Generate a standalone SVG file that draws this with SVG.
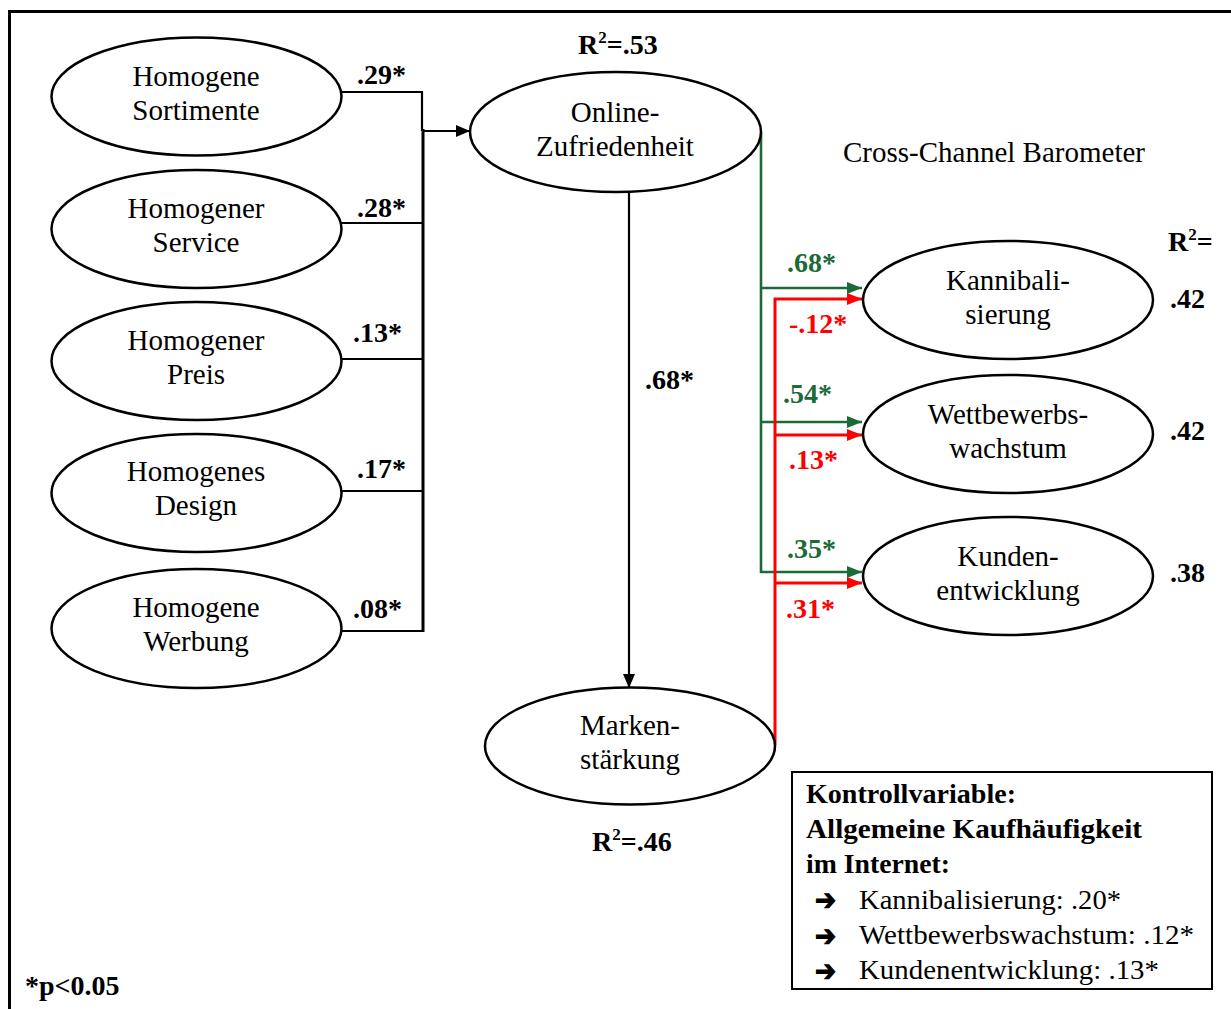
<svg xmlns="http://www.w3.org/2000/svg" width="1231" height="1009" viewBox="0 0 1231 1009">
  <style>
    .node ellipse { fill: #fff; stroke: #000; stroke-width: 2.5; }
    .lbl { font-family: "Liberation Serif", "Times New Roman", serif; font-size: 29px; fill: #000; text-anchor: middle; }
    .coef { font-family: "Liberation Serif", "Times New Roman", serif; font-size: 28px; font-weight: bold; fill: #000; }
    .green { fill: #1b6b38; }
    .red { fill: #ff0000; }
    .wire { fill: none; stroke: #000; stroke-width: 2.2; }
    .gwire { fill: none; stroke: #1b6b38; stroke-width: 2.6; }
    .rwire { fill: none; stroke: #ff0000; stroke-width: 3; }
    .box { font-family: "Liberation Serif", "Times New Roman", serif; font-size: 27px; fill: #000; }
    .bullet { font-family: "DejaVu Sans", sans-serif; font-size: 29px; font-weight: bold; fill: #000; stroke: #000; stroke-width: 1.2; }
  </style>
  <defs>
    <marker id="ahBlack" viewBox="0 0 14 12" refX="14" refY="6" markerWidth="14" markerHeight="12" markerUnits="userSpaceOnUse" orient="auto">
      <path d="M0,0 L14,6 L0,12 Z" fill="#000"/>
    </marker>
    <marker id="ahGreen" viewBox="0 0 15 12" refX="15" refY="6" markerWidth="15" markerHeight="12" markerUnits="userSpaceOnUse" orient="auto">
      <path d="M0,0 L15,6 L0,12 Z" fill="#1b6b38"/>
    </marker>
    <marker id="ahRed" viewBox="0 0 15 12" refX="15" refY="6" markerWidth="15" markerHeight="12" markerUnits="userSpaceOnUse" orient="auto">
      <path d="M0,0 L15,6 L0,12 Z" fill="#ff0000"/>
    </marker>
  </defs>

  <rect width="1231" height="1009" fill="#fff"/>

  <!-- frame (top and left edges) -->
  <path d="M9.5,1009 V11.5 H1231" fill="none" stroke="#000" stroke-width="3"/>

  <!-- connectors -->
  <g id="connectors">
    <path class="wire" d="M341,92 H422 V131"/>
    <path class="wire" d="M341,223 H422"/>
    <path class="wire" d="M341,359 H422"/>
    <path class="wire" d="M341,491 H422"/>
    <path class="wire" d="M341,631 H423"/>
    <path d="M423,129 V632" fill="none" stroke="#000" stroke-width="3"/>
    <path class="wire" d="M423,131 H470" stroke-width="2.6" marker-end="url(#ahBlack)"/>
    <path class="wire" d="M629,192 V688" marker-end="url(#ahBlack)"/>
    <path class="gwire" d="M761,132 V572 H862" marker-end="url(#ahGreen)"/>
    <path class="gwire" d="M761,288 H862" marker-end="url(#ahGreen)"/>
    <path class="gwire" d="M761,422 H862" marker-end="url(#ahGreen)"/>
    <path class="rwire" d="M775,745 V299 H862" marker-end="url(#ahRed)"/>
    <path class="rwire" d="M775,435 H862" marker-end="url(#ahRed)"/>
    <path class="rwire" d="M775,583 H862" marker-end="url(#ahRed)"/>
  </g>

  <!-- path coefficients -->
  <g id="coefficients">
    <text class="coef" x="357" y="84">.29*</text>
    <text class="coef" x="357" y="217">.28*</text>
    <text class="coef" x="353" y="342">.13*</text>
    <text class="coef" x="357" y="478">.17*</text>
    <text class="coef" x="353" y="618">.08*</text>
    <text class="coef" x="645" y="389">.68*</text>
    <text class="coef green" x="787" y="272">.68*</text>
    <text class="coef red" x="789" y="333">-.12*</text>
    <text class="coef green" x="783" y="403">.54*</text>
    <text class="coef red" x="789" y="469">.13*</text>
    <text class="coef green" x="787" y="558">.35*</text>
    <text class="coef red" x="786" y="618">.31*</text>
  </g>

  <!-- predictors -->
  <g id="homogene-sortimente" class="node">
    <ellipse cx="196.5" cy="96.5" rx="145" ry="59"/>
    <text class="lbl" x="196" y="86">Homogene</text>
    <text class="lbl" x="196" y="120">Sortimente</text>
  </g>
  <g id="homogener-service" class="node">
    <ellipse cx="196.5" cy="229" rx="145" ry="59"/>
    <text class="lbl" x="196" y="218">Homogener</text>
    <text class="lbl" x="196" y="252">Service</text>
  </g>
  <g id="homogener-preis" class="node">
    <ellipse cx="196.5" cy="361" rx="145" ry="59"/>
    <text class="lbl" x="196" y="350">Homogener</text>
    <text class="lbl" x="196" y="384">Preis</text>
  </g>
  <g id="homogenes-design" class="node">
    <ellipse cx="196.5" cy="493" rx="145" ry="59"/>
    <text class="lbl" x="196" y="481">Homogenes</text>
    <text class="lbl" x="196" y="515">Design</text>
  </g>
  <g id="homogene-werbung" class="node">
    <ellipse cx="196.5" cy="628.5" rx="145" ry="59.5"/>
    <text class="lbl" x="196" y="617">Homogene</text>
    <text class="lbl" x="196" y="651">Werbung</text>
  </g>

  <!-- mediators -->
  <g id="online-zufriedenheit" class="node">
    <ellipse cx="615.5" cy="132" rx="145.5" ry="60"/>
    <text class="lbl" x="615" y="122">Online-</text>
    <text class="lbl" x="615" y="156">Zufriedenheit</text>
  </g>
  <text class="coef" x="578" y="54">R<tspan font-size="17" dy="-11">2</tspan><tspan dy="11">=.53</tspan></text>

  <g id="markenstaerkung" class="node">
    <ellipse cx="630" cy="746" rx="145" ry="58.5"/>
    <text class="lbl" x="630" y="735">Marken-</text>
    <text class="lbl" x="630" y="769">stärkung</text>
  </g>
  <text class="coef" x="592" y="851">R<tspan font-size="17" dy="-11">2</tspan><tspan dy="11">=.46</tspan></text>

  <!-- outcomes -->
  <text class="lbl" x="994" y="162">Cross-Channel Barometer</text>
  <text class="coef" x="1168" y="251">R<tspan font-size="17" dy="-11">2</tspan><tspan dy="11">=</tspan></text>

  <g id="kannibalisierung" class="node">
    <ellipse cx="1008" cy="300" rx="145" ry="59"/>
    <text class="lbl" x="1008" y="290">Kannibali-</text>
    <text class="lbl" x="1008" y="324">sierung</text>
  </g>
  <text class="coef" x="1170" y="308">.42</text>

  <g id="wettbewerbswachstum" class="node">
    <ellipse cx="1008" cy="434" rx="145" ry="59"/>
    <text class="lbl" x="1008" y="424">Wettbewerbs-</text>
    <text class="lbl" x="1008" y="458">wachstum</text>
  </g>
  <text class="coef" x="1170" y="440">.42</text>

  <g id="kundenentwicklung" class="node">
    <ellipse cx="1008" cy="576" rx="145" ry="59"/>
    <text class="lbl" x="1008" y="566">Kunden-</text>
    <text class="lbl" x="1008" y="600">entwicklung</text>
  </g>
  <text class="coef" x="1170" y="582">.38</text>

  <!-- control variable box -->
  <g id="kontrollvariable">
    <rect x="792" y="772" width="420" height="217" fill="#fff" stroke="#000" stroke-width="2"/>
    <text class="box" x="806" y="803" font-weight="bold" textLength="210" lengthAdjust="spacingAndGlyphs">Kontrollvariable:</text>
    <text class="box" x="806" y="838" font-weight="bold" textLength="336" lengthAdjust="spacingAndGlyphs">Allgemeine Kaufhäufigkeit</text>
    <text class="box" x="806" y="873" font-weight="bold" textLength="144" lengthAdjust="spacingAndGlyphs">im Internet:</text>
    <text class="bullet" x="815" y="910" textLength="21" lengthAdjust="spacingAndGlyphs">➔</text>
    <text class="bullet" x="815" y="946" textLength="21" lengthAdjust="spacingAndGlyphs">➔</text>
    <text class="bullet" x="815" y="981" textLength="21" lengthAdjust="spacingAndGlyphs">➔</text>
    <text class="box" x="859" y="909" textLength="262" lengthAdjust="spacingAndGlyphs">Kannibalisierung: .20*</text>
    <text class="box" x="859" y="944" textLength="335" lengthAdjust="spacingAndGlyphs">Wettbewerbswachstum: .12*</text>
    <text class="box" x="859" y="979" textLength="300" lengthAdjust="spacingAndGlyphs">Kundenentwicklung: .13*</text>
  </g>

  <text class="coef" x="25" y="995">*p&lt;0.05</text>
</svg>
